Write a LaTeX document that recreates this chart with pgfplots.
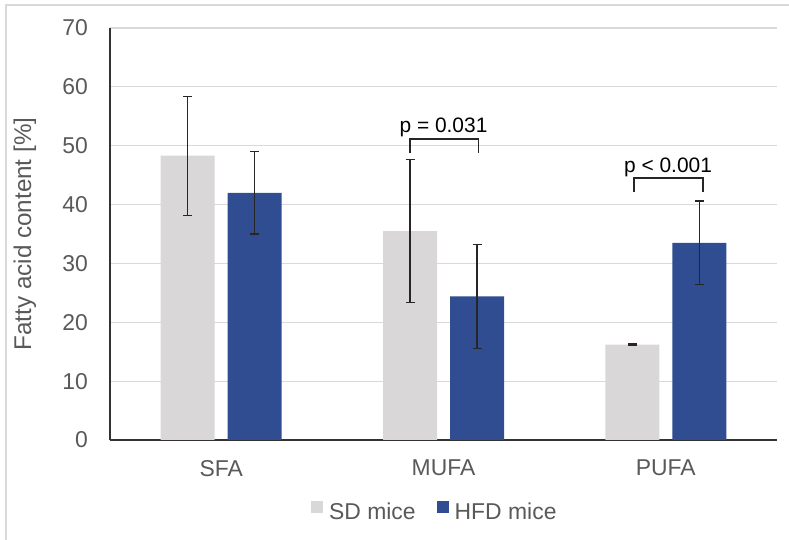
\documentclass[border=0pt]{standalone}
\usepackage{fontspec}
\setmainfont{Liberation Sans}
\usepackage{pgfplots}
\pgfplotsset{compat=1.18}
\definecolor{sdgray}{RGB}{217,215,216}
\definecolor{hfdblue}{RGB}{48,77,145}
\definecolor{txtgray}{RGB}{89,89,89}
\definecolor{gridgray}{RGB}{217,217,217}
\definecolor{errgray}{RGB}{38,38,38}

\begin{document}
\begin{tikzpicture}
\path[use as bounding box] (0bp,0bp) rectangle (789bp,540bp);
\draw[gridgray, line width=1.2bp] (6bp,0bp) -- (6bp,535bp) -- (789bp,535bp);
\begin{axis}[
  at={(110bp,100bp)}, anchor=south west,
  scale only axis, width=667bp, height=412bp,
  xmin=-0.5, xmax=2.5, ymin=0, ymax=70,
  ybar=13bp, bar width=54bp,
  axis lines*=left,
  axis line style={-, draw=black!80, line width=1.2bp},
  major tick length=0pt,
  xtick={0,1,2}, xticklabels={SFA,MUFA,PUFA},
  ytick={0,10,...,70},
  ymajorgrids, grid style={gridgray, line width=1.2bp},
  /pgf/number format/assume math mode=true,
  tick label style={font=\fontsize{23}{27}\selectfont, text=txtgray, inner sep=0pt},
  y tick label style={anchor=east, xshift=-22bp},
  x tick label style={anchor=north, yshift=-20bp},
  ylabel={Fatty acid content [\%]},
  every axis y label/.style={at={(axis description cs:-0.1184,0.5)}, rotate=90, anchor=base,
    font=\fontsize{24.3}{28}\selectfont, text=txtgray},
  legend style={at={(0.487,-0.175)}, anchor=center, draw=none, fill=none,
    font=\fontsize{23}{27}\selectfont, text=txtgray, legend columns=2,
    /tikz/every even column/.append style={column sep=19bp}},
  error bars/y dir=both, error bars/y explicit,
  error bars/error bar style={errgray, line width=1.3bp},
  error bars/error mark options={rotate=90, mark size=4.5bp, line width=1.3bp, errgray},
]
\addplot[fill=sdgray, draw=none,
  legend image code/.code={\fill[sdgray] (0bp,-1bp) rectangle (12bp,11bp); \path (16bp,5bp);}]
  coordinates {(0,48.3) +- (0,10.1) (1,35.5) +- (0,12.1) (2,16.2) +- (0,0.1)};
\addlegendentry{SD mice}
\addplot[fill=hfdblue, draw=none,
  legend image code/.code={\fill[hfdblue] (0bp,-1bp) rectangle (12bp,11bp); \path (16bp,5bp);}]
  coordinates {(0,42.0) +- (0,7.0) (1,24.4) +- (0,8.8) (2,33.5) +- (0,7.1)};
\addlegendentry{HFD mice}
% significance brackets
\draw[errgray, line width=1.5bp] (axis cs:0.849,48.7) -- (axis cs:0.849,51.1) -- (axis cs:1.158,51.1) -- (axis cs:1.158,48.7);
\node[anchor=base, font=\fontsize{21}{25}\selectfont, inner sep=0pt] at (axis cs:1.0,52.3) {p = 0.031};
\draw[errgray, line width=1.5bp] (axis cs:1.856,42.1) -- (axis cs:1.856,44.5) -- (axis cs:2.167,44.5) -- (axis cs:2.167,42.1);
\node[anchor=base, font=\fontsize{21}{25}\selectfont, inner sep=0pt] at (axis cs:2.01,45.5) {p < 0.001};
\end{axis}
\end{tikzpicture}
\end{document}
